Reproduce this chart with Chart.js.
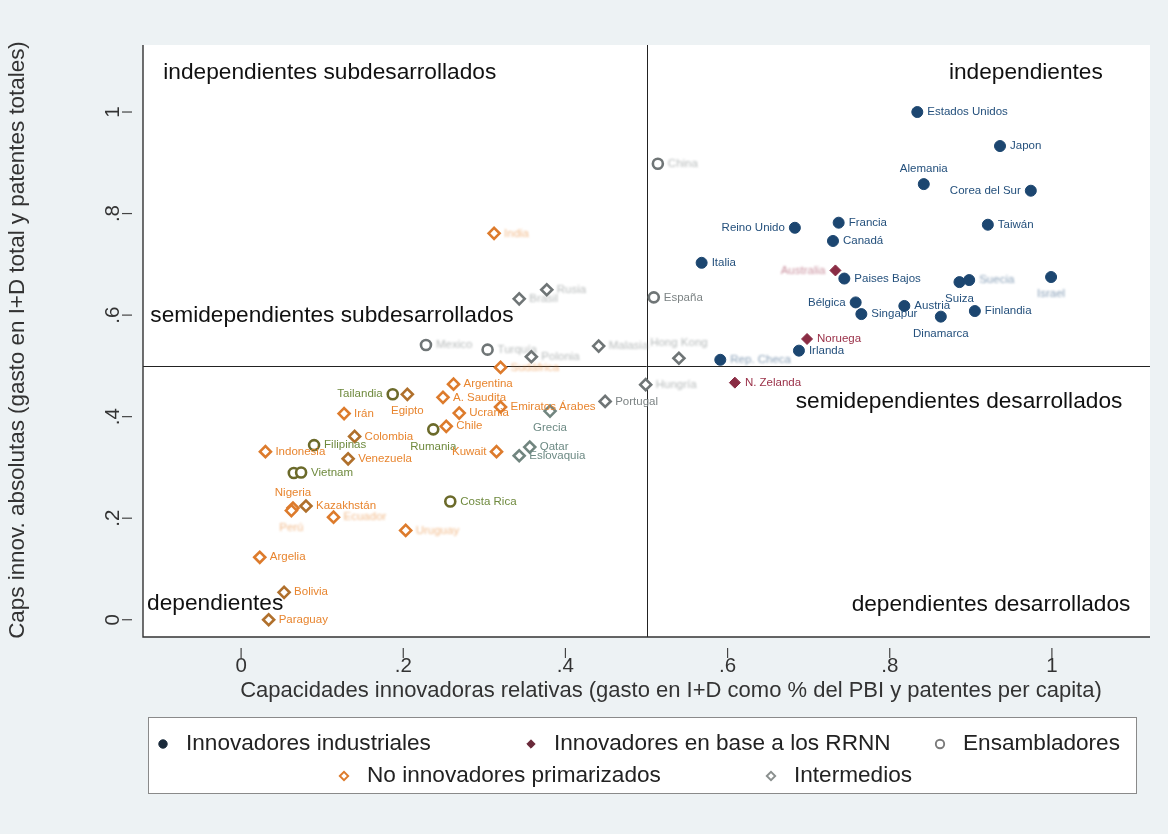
<!DOCTYPE html>
<html lang="es">
<head>
    <meta charset="UTF-8">
    <title>Capacidades innovadoras</title>
    <script src="https://cdn.jsdelivr.net/npm/chart.js"></script>
    <style>
        html, body { margin: 0; padding: 0; background: #edf2f4; }
        #wrap { width: 1168px; height: 834px; }
    </style>
</head>
<body>
<div id="wrap"><canvas id="chart" width="1168" height="834"></canvas></div>
<script>
    // Innovadores industriales
    const industrialNames = ['Estados Unidos', 'Japon', 'Alemania', 'Corea del Sur', 'Taiwán', 'Francia', 'Canadá', 'Reino Unido', 'Italia', 'Paises Bajos', 'Suiza', 'Suecia', 'Israel', 'Bélgica', 'Singapur', 'Austria', 'Dinamarca', 'Finlandia', 'Irlanda', 'Rep. Checa'];
    const industrialX = [0.834, 0.936, 0.842, 0.974, 0.921, 0.737, 0.730, 0.683, 0.568, 0.744, 0.886, 0.898, 0.999, 0.758, 0.765, 0.818, 0.863, 0.905, 0.688, 0.591];
    const industrialY = [1.000, 0.933, 0.858, 0.845, 0.778, 0.782, 0.746, 0.772, 0.703, 0.672, 0.665, 0.669, 0.675, 0.625, 0.602, 0.618, 0.597, 0.608, 0.530, 0.512];

    // Innovadores en base a los RRNN
    const rrnnNames = ['Australia', 'Noruega', 'N. Zelanda'];
    const rrnnX = [0.733, 0.698, 0.609];
    const rrnnY = [0.688, 0.553, 0.467];

    // Ensambladores
    const ensambNames = ['China', 'España', 'Mexico', 'Turquía', 'Tailandia', 'Filipinas', '', 'Vietnam', 'Rumania', 'Costa Rica'];
    const ensambX = [0.514, 0.509, 0.228, 0.304, 0.187, 0.090, 0.065, 0.074, 0.237, 0.258];
    const ensambY = [0.898, 0.635, 0.541, 0.532, 0.444, 0.344, 0.289, 0.290, 0.375, 0.233];

    // No innovadores primarizados
    const primNames = ['India', 'Sudáfrica', 'Argentina', 'A. Saudita', 'Egipto', 'Emiratos Árabes', 'Ucrania', 'Chile', 'Irán', 'Colombia', 'Indonesia', 'Venezuela', 'Kuwait', 'Nigeria', 'Perú', 'Kazakhstán', 'Ecuador', 'Uruguay', 'Argelia', 'Bolivia', 'Paraguay'];
    const primX = [0.312, 0.320, 0.262, 0.249, 0.205, 0.320, 0.269, 0.253, 0.127, 0.140, 0.030, 0.132, 0.315, 0.064, 0.062, 0.080, 0.114, 0.203, 0.023, 0.053, 0.034];
    const primY = [0.761, 0.497, 0.464, 0.438, 0.444, 0.419, 0.407, 0.381, 0.406, 0.361, 0.331, 0.317, 0.331, 0.220, 0.215, 0.224, 0.202, 0.176, 0.123, 0.054, 0.000];

    // Intermedios
    const interNames = ['Rusia', 'Brasil', 'Polonia', 'Malasia', 'Hong Kong', 'Hungría', 'Portugal', 'Grecia', 'Qatar', 'Eslovaquia'];
    const interX = [0.377, 0.343, 0.358, 0.441, 0.540, 0.499, 0.449, 0.381, 0.356, 0.343];
    const interY = [0.650, 0.632, 0.518, 0.539, 0.515, 0.463, 0.430, 0.411, 0.340, 0.323];

    const groupNames = ['Innovadores industriales', 'Innovadores en base a los RRNN', 'Ensambladores', 'No innovadores primarizados', 'Intermedios'];

    const xTicks = [0, 0.2, 0.4, 0.6, 0.8, 1];
    const xTickLabels = ['0', '.2', '.4', '.6', '.8', '1'];
    const yTicks = [0, 0.2, 0.4, 0.6, 0.8, 1];
    const yTickLabels = ['0', '.2', '.4', '.6', '.8', '1'];

    const quadrantTitles = ['independientes subdesarrollados', 'independientes', 'semidependientes subdesarrollados', 'semidependientes desarrollados', 'dependientes', 'dependientes desarrollados'];
    const quadrantX = [-0.096, 0.873, -0.112, 0.684, -0.116, 0.753];
    const quadrantY = [1.077, 1.077, 0.598, 0.429, 0.031, 0.030];

    const xTitle = 'Capacidades innovadoras relativas (gasto en I+D como % del PBI y patentes per capita)';
    const yTitle = 'Caps innov. absolutas (gasto en I+D total y patentes totales)';

    const FONT = "'Liberation Sans', Arial, sans-serif";

    // where each country name sits relative to its marker (default: right)
    const labelPos = {
        'Alemania': 'above', 'Corea del Sur': 'left', 'Reino Unido': 'left', 'Suiza': 'below',
        'Israel': 'below', 'Bélgica': 'left', 'Dinamarca': 'below', 'Australia': 'left',
        'Tailandia': 'left', 'Rumania': 'below', 'Hong Kong': 'above', 'Grecia': 'below',
        'Egipto': 'below', 'Kuwait': 'left', 'Nigeria': 'above', 'Perú': 'below'
    };
    // names printed soft / washed out
    const softNames = new Set(['China', 'India', 'Rusia', 'Brasil', 'Mexico', 'Turquía', 'Polonia', 'Malasia', 'Hong Kong', 'Sudáfrica', 'Hungría', 'Israel', 'Rep. Checa', 'Australia', 'Perú', 'Ecuador', 'Uruguay', 'Suecia']);
    const greyNames = new Set(['China', 'España', 'Mexico', 'Turquía', 'Rusia', 'Brasil', 'Polonia', 'Malasia', 'Hong Kong', 'Hungría', 'Portugal']);
    const brownNames = new Set(['Egipto', 'Colombia', 'Venezuela', 'Bolivia', 'Paraguay', 'Kazakhstán']);

    const groupStyle = [
        { marker: '#1c4670', label: '#24507c', style: 'circle', radius: 5.5, fill: true },
        { marker: '#8a2c44', label: '#9a3048', style: 'rectRot', radius: 5.5, fill: true },
        { marker: '#6b6a2a', label: '#6f8a3e', style: 'circle', radius: 5, fill: false },
        { marker: '#dd7b2c', label: '#e8852f', style: 'rectRot', radius: 5.5, fill: false },
        { marker: '#71857f', label: '#6d8a84', style: 'rectRot', radius: 5.5, fill: false }
    ];

    function points(names, xs, ys) {
        return names.map((n, i) => ({ x: xs[i], y: ys[i], name: n }));
    }

    const groups = [
        points(industrialNames, industrialX, industrialY),
        points(rrnnNames, rrnnX, rrnnY),
        points(ensambNames, ensambX, ensambY),
        points(primNames, primX, primY),
        points(interNames, interX, interY)
    ];

    function markerColor(g, name) {
        if (greyNames.has(name)) return '#6f7576';
        if (g === 3 && brownNames.has(name)) return '#b0702c';
        return groupStyle[g].marker;
    }

    const datasets = groups.map((data, g) => {
        const st = groupStyle[g];
        return {
            label: groupNames[g],
            data: data,
            pointStyle: st.style,
            pointRadius: st.radius,
            pointBorderWidth: st.fill ? 1 : 2.6,
            pointBorderColor: ctx => markerColor(g, ctx.raw ? ctx.raw.name : ''),
            pointBackgroundColor: ctx => st.fill ? markerColor(g, ctx.raw ? ctx.raw.name : '') : '#ffffff'
        };
    });

    // white plot region on the light frame, plus the two dividing lines
    const backdrop = {
        id: 'backdrop',
        beforeDraw(chart) {
            const { ctx, chartArea: a } = chart;
            ctx.save();
            ctx.fillStyle = '#edf2f4';
            ctx.fillRect(0, 0, chart.width, chart.height);
            ctx.fillStyle = '#ffffff';
            ctx.fillRect(a.left, a.top, a.right - a.left, a.bottom - a.top);
            ctx.restore();
        },
        beforeDatasetsDraw(chart) {
            const { ctx, chartArea: a, scales: { x, y } } = chart;
            ctx.save();
            ctx.strokeStyle = '#222';
            ctx.lineWidth = 1;
            const px = Math.round(x.getPixelForValue(0.5)) + 0.5;
            const py = Math.round(y.getPixelForValue(0.5)) + 0.5;
            ctx.beginPath();
            ctx.moveTo(px, a.top); ctx.lineTo(px, a.bottom);
            ctx.moveTo(a.left, py); ctx.lineTo(a.right, py);
            ctx.stroke();

            // quadrant names
            ctx.fillStyle = '#111';
            ctx.font = '22.7px ' + FONT;
            ctx.textAlign = 'left';
            ctx.textBaseline = 'middle';
            quadrantTitles.forEach((t, i) => {
                ctx.fillText(t, x.getPixelForValue(quadrantX[i]), y.getPixelForValue(quadrantY[i]));
            });
            ctx.restore();
        }
    };

    // frame lines, ticks, tick labels and axis titles
    const axes = {
        id: 'axes',
        afterDraw(chart) {
            const { ctx, chartArea: a, scales: { x, y } } = chart;
            ctx.save();
            ctx.strokeStyle = '#333';
            ctx.lineWidth = 1.4;
            ctx.beginPath();
            ctx.moveTo(a.left, a.top); ctx.lineTo(a.left, a.bottom); ctx.lineTo(a.right, a.bottom);
            ctx.stroke();

            ctx.lineWidth = 1.2;
            ctx.strokeStyle = '#444';
            ctx.fillStyle = '#333';
            ctx.font = '20.5px ' + FONT;
            ctx.textAlign = 'center';
            ctx.textBaseline = 'middle';
            xTicks.forEach((v, i) => {
                const px = x.getPixelForValue(v);
                ctx.beginPath();
                ctx.moveTo(px, a.bottom + 11); ctx.lineTo(px, a.bottom + 21);
                ctx.stroke();
                ctx.fillText(xTickLabels[i], px, a.bottom + 29);
            });
            yTicks.forEach((v, i) => {
                const py = y.getPixelForValue(v);
                ctx.beginPath();
                ctx.moveTo(a.left - 11, py); ctx.lineTo(a.left - 21, py);
                ctx.stroke();
                ctx.save();
                ctx.translate(a.left - 30, py);
                ctx.rotate(-Math.PI / 2);
                ctx.fillText(yTickLabels[i], 0, 0);
                ctx.restore();
            });

            ctx.font = '22px ' + FONT;
            ctx.fillText(xTitle, 671, 691);
            ctx.save();
            ctx.font = '22.4px ' + FONT;
            ctx.translate(18, 340);
            ctx.rotate(-Math.PI / 2);
            ctx.fillText(yTitle, 0, 0);
            ctx.restore();
            ctx.restore();
        }
    };

    // country names next to the markers
    const pointNames = {
        id: 'pointNames',
        afterDatasetsDraw(chart) {
            const ctx = chart.ctx;
            ctx.save();
            ctx.font = '11.5px ' + FONT;
            chart.data.datasets.forEach((ds, g) => {
                const meta = chart.getDatasetMeta(g);
                ds.data.forEach((p, i) => {
                    if (!p.name) return;
                    const el = meta.data[i];
                    const pos = labelPos[p.name] || 'right';
                    let tx = el.x, ty = el.y;
                    ctx.textBaseline = 'middle';
                    if (pos === 'right') { tx += 10; ctx.textAlign = 'left'; }
                    else if (pos === 'left') { tx -= 10; ctx.textAlign = 'right'; }
                    else if (pos === 'above') { ty -= 15; ctx.textAlign = 'center'; }
                    else { ty += 17; ctx.textAlign = 'center'; }
                    ctx.save();
                    if (softNames.has(p.name)) {
                        ctx.filter = 'blur(0.9px)';
                        ctx.globalAlpha = 0.55;
                    }
                    ctx.fillStyle = greyNames.has(p.name) ? '#7c8384' : groupStyle[g].label;
                    ctx.fillText(p.name, tx, ty);
                    ctx.restore();
                });
            });
            ctx.restore();
        }
    };

    // boxed legend in two centred rows
    const boxLegend = {
        id: 'boxLegend',
        afterDraw(chart) {
            const ctx = chart.ctx;
            const slots = [[163, 744], [531, 744], [940, 744], [344, 776], [771, 776]];
            const legendColors = ['#1a2a3a', '#6a2a3a', '#7a7a7a', '#dd7b2c', '#8a8f8e'];
            ctx.save();
            ctx.fillStyle = '#ffffff';
            ctx.fillRect(148, 717, 988, 76);
            ctx.strokeStyle = '#8a8a8a';
            ctx.lineWidth = 1;
            ctx.strokeRect(148.5, 717.5, 988, 76);
            ctx.font = '22.6px ' + FONT;
            ctx.textAlign = 'left';
            ctx.textBaseline = 'middle';
            chart.data.datasets.forEach((ds, g) => {
                const [lx, ly] = slots[g];
                const st = groupStyle[g];
                ctx.strokeStyle = legendColors[g];
                ctx.fillStyle = st.fill ? legendColors[g] : '#ffffff';
                ctx.lineWidth = st.fill ? 1 : 1.9;
                Chart.helpers.drawPoint(ctx, { pointStyle: st.style, radius: 4.2, borderWidth: ctx.lineWidth, rotation: 0 }, lx, ly);
                ctx.fillStyle = '#222';
                ctx.fillText(ds.label, lx + 23, ly);
            });
            ctx.restore();
        }
    };

    new Chart(document.getElementById('chart').getContext('2d'), {
        type: 'scatter',
        data: { datasets: datasets },
        options: {
            responsive: false,
            animation: false,
            layout: { padding: { left: 143, right: 18, top: 45, bottom: 197 } },
            scales: {
                x: { type: 'linear', min: -0.121, max: 1.121, display: false },
                y: { type: 'linear', min: -0.034, max: 1.132, display: false }
            },
            plugins: {
                legend: { display: false },
                tooltip: { enabled: false }
            }
        },
        plugins: [backdrop, axes, pointNames, boxLegend]
    });
</script>
</body>
</html>
